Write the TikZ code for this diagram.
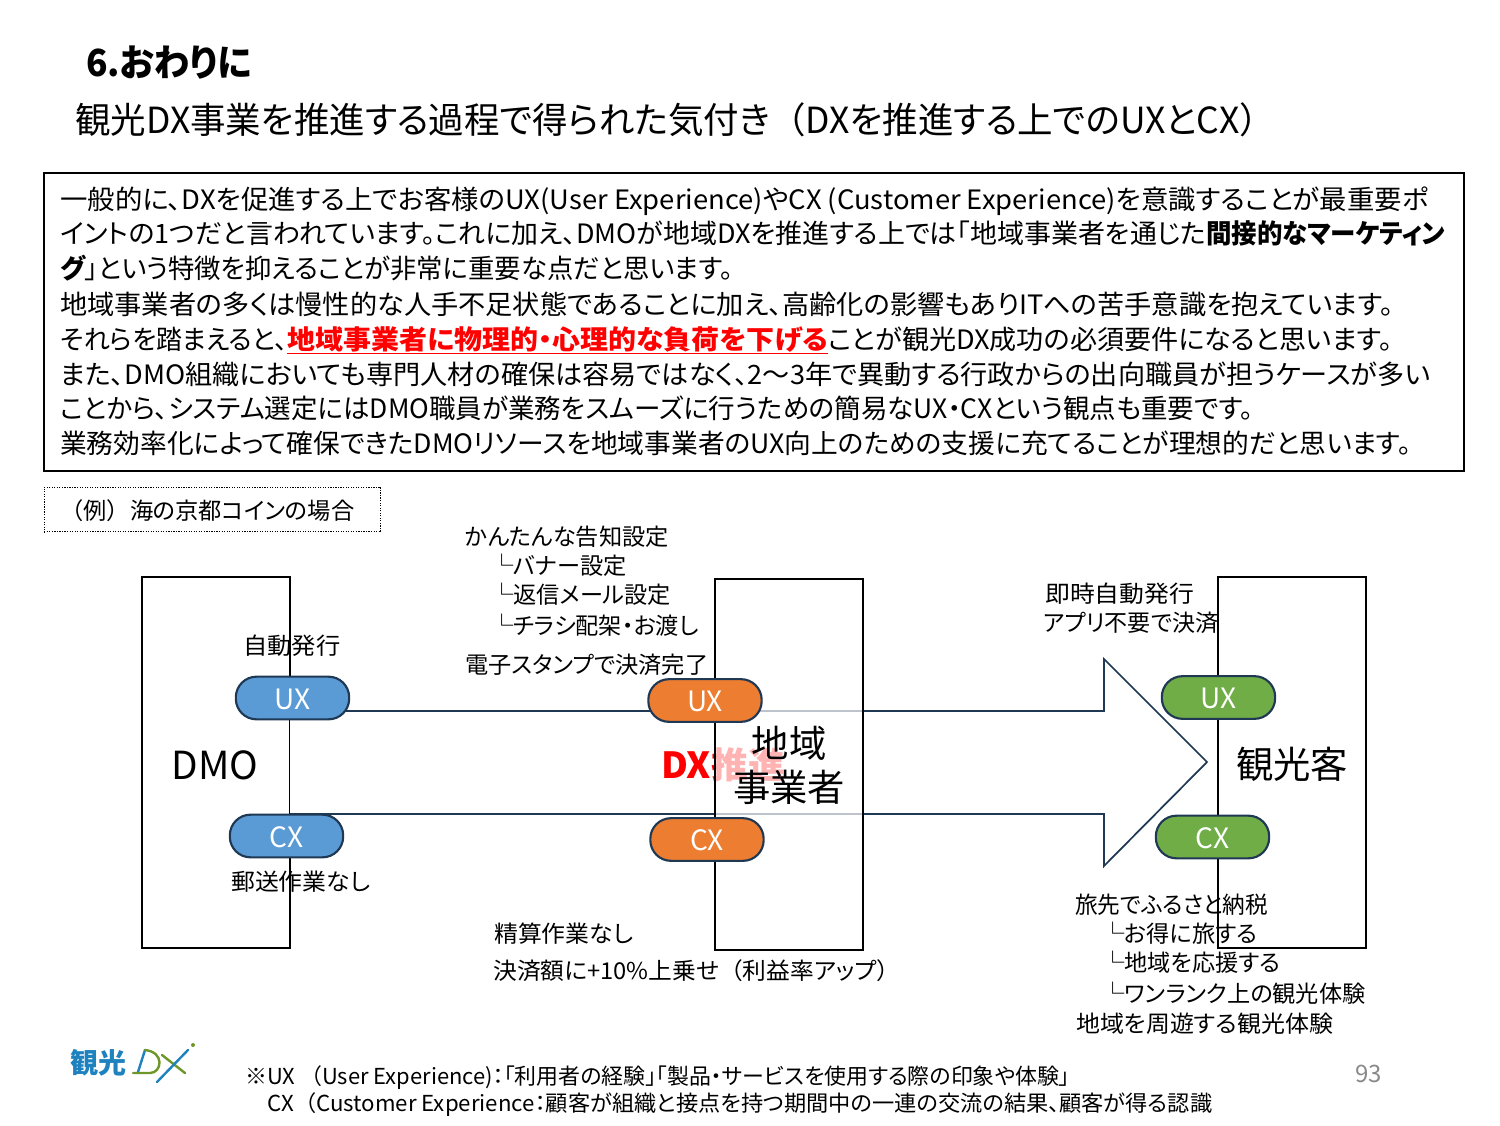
\documentclass[tikz,border=0pt]{standalone}
\usepackage{graphicx}
\usepackage{fontspec}
\setmainfont{Noto Sans CJK JP}[RawFeature=+palt]
\newfontfamily\fullfont{Noto Sans CJK JP}
\usetikzlibrary{positioning, backgrounds}
\newlength\pxunit
\setlength\pxunit{0.75pt}
\newcommand{\fitline}[2]{\resizebox{#1\pxunit}{\height}{#2}}
\newcommand{\fwl}{{\fullfont （}}
\newcommand{\fwr}{{\fullfont ）}}

\begin{document}
\begin{tikzpicture}[
    x=0.75pt, y=-0.75pt,
    % --- Colours ---
    navyLine/.style={draw={rgb,255:red,31;green,56;blue,84}},
    bluePill/.style={pill, fill={rgb,255:red,91;green,155;blue,213}},
    orangePill/.style={pill, fill={rgb,255:red,237;green,125;blue,49}},
    greenPill/.style={pill, fill={rgb,255:red,112;green,173;blue,71}},
    logoBlue/.style={line width=1.8pt, line cap=round, draw={rgb,255:red,30;green,130;blue,190}},
    logoGreen/.style={line width=1.8pt, line cap=round, draw={rgb,255:red,110;green,150;blue,40}},
    % --- Node styles ---
    pill/.style={navyLine, line width=1.6pt, rounded corners=15.5pt, minimum width=85pt, minimum height=32pt, inner sep=0pt, text=white, text height=17pt, text depth=0pt, font=\fontsize{21}{21}\selectfont},
    actor/.style={draw=black, line width=1.4pt, minimum width=111pt, minimum height=278pt, inner sep=0pt},
    actorText/.style={font=\fontsize{28}{33}\selectfont, align=center, inner sep=0pt},
    bodyLine/.style={anchor=base west, inner sep=0pt, font=\fontsize{20}{22}\selectfont},
    label/.style={anchor=base west, inner sep=0pt, font=\fontsize{17.4}{20}\selectfont},
    note/.style={anchor=base west, inner sep=0pt, font=\fontsize{16.5}{18}\selectfont}
]
    \useasboundingbox (0,0) rectangle (1500,1125);

    % ===== heading =====
    \node[anchor=base west, inner sep=0pt, font=\fontsize{28}{30}\selectfont\bfseries] (title) at (86,76) {\fitline{166}{6.おわりに}};
    \node[anchor=base west, inner sep=0pt, font=\fontsize{27}{30}\selectfont] (subtitle) at (75,133) {\fitline{1200}{観光DX事業を推進する過程で得られた気付き\fwl DXを推進する上でのUXとCX\fwr}};

    % ===== text block =====
    \node[draw=black, line width=1.1pt, minimum width=1065pt, minimum height=223.5pt, inner sep=0pt] (bodyBox) at (754,322) {};
    \node[bodyLine] (line1) at (60,209) {\fitline{1368}{一般的に、DXを促進する上でお客様のUX(User Experience)やCX (Customer Experience)を意識することが最重要ポ}};
    \node[bodyLine] (line2) at (60,243) {\fitline{1146}{イントの1つだと言われています。これに加え、DMOが地域DXを推進する上では「地域事業者を通じた}\fitline{239}{\textbf{間接的なマーケティン}}};
    \node[bodyLine] (line3) at (60,278) {\fitline{673}{\textbf{グ}」という特徴を抑えることが非常に重要な点だと思います。}};
    \node[bodyLine] (line4) at (60,314) {\fitline{1333}{地域事業者の多くは慢性的な人手不足状態であることに加え、高齢化の影響もありITへの苦手意識を抱えています。}};
    \node[bodyLine] (line5) at (60,349) {\fitline{227}{それらを踏まえると、}\fitline{541}{\textcolor{red}{\textbf{\underline{地域事業者に物理的・心理的な負荷を下げる}}}}\fitline{564}{ことが観光DX成功の必須要件になると思います。}};
    \node[bodyLine] (line6) at (60,384) {\fitline{1370}{また、DMO組織においても専門人材の確保は容易ではなく、2～3年で異動する行政からの出向職員が担うケースが多い}};
    \node[bodyLine] (line7) at (60,418) {\fitline{1193}{ことから、システム選定にはDMO職員が業務をスムーズに行うための簡易なUX・CXという観点も重要です。}};
    \node[bodyLine] (line8) at (60,453) {\fitline{1351}{業務効率化によって確保できたDMOリソースを地域事業者のUX向上のための支援に充てることが理想的だと思います。}};

    % ===== example tag =====
    \node[draw=black, densely dotted, line width=0.9pt, minimum width=252.5pt, minimum height=33.5pt, inner sep=0pt] (exampleTag) at (212.5,509.5) {};
    \node[label] (exampleText) at (60,519) {\fitline{294}{\fwl 例\fwr 海の京都コインの場合}};

    % ===== actors and arrow =====
    \node[actor] (dmoBox) at (216,762.5) {};
    \node[actor] (touristBox) at (1292,762.5) {};
    \draw[navyLine, fill=white, line width=1.3pt] (290,711) -- (1104,711) -- (1104,659) -- (1207,762) -- (1104,866) -- (1104,814) -- (290,814);
    \node[font=\fontsize{27}{30}\selectfont\bfseries, text=red, inner sep=0pt] (dxText) at (723,765) {\fitline{124}{DX推進}};
    \node[actor, fill=white, fill opacity=0.7, draw opacity=1] (localBox) at (789,764.5) {};

    \node[actorText, font=\fontsize{29}{33}\selectfont] (dmoText) at (215,765) {DMO};
    \node[actorText] (localText) at (789,765) {地域\\事業者};
    \node[actorText] (touristText) at (1292,764) {観光客};

    % ===== UX / CX pills =====
    \node[bluePill] (dmoUX) at (292.5,698) {UX};
    \node[bluePill] (dmoCX) at (286.5,836) {CX};
    \node[orangePill] (localUX) at (705,700.5) {UX};
    \node[orangePill] (localCX) at (707,839.5) {CX};
    \node[greenPill] (touristUX) at (1218.5,697.5) {UX};
    \node[greenPill] (touristCX) at (1212.5,837) {CX};

    % ===== labels =====
    \node[label] (dmoNote1) at (243,654) {\fitline{97}{自動発行}};
    \node[label] (dmoNote2) at (231,890) {\fitline{139}{郵送作業なし}};
    \node[label] (localNote1) at (465,545) {かんたんな告知設定};
    \node[label] (localNote2) at (490,574) {└バナー設定};
    \node[label] (localNote3) at (490,603) {└返信メール設定};
    \node[label] (localNote4) at (490,634) {└チラシ配架・お渡し};
    \node[label] (localNote5) at (465,673) {\fitline{243}{電子スタンプで決済完了}};
    \node[label] (localNote6) at (494,942) {\fitline{139}{精算作業なし}};
    \node[label] (localNote7) at (493,979) {\fitline{407}{決済額に+10\%上乗せ\fwl 利益率アップ\fwr}};
    \node[label] (touristNote1) at (1045,602) {\fitline{149}{即時自動発行}};
    \node[label] (touristNote2) at (1043,631) {\fitline{175}{アプリ不要で決済}};
    \node[label] (touristNote3) at (1075,913) {\fitline{193}{旅先でふるさと納税}};
    \node[label] (touristNote4) at (1101,942) {└お得に旅する};
    \node[label] (touristNote5) at (1101,971) {└地域を応援する};
    \node[label] (touristNote6) at (1101,1002) {└ワンランク上の観光体験};
    \node[label] (touristNote7) at (1076,1032) {\fitline{257}{地域を周遊する観光体験}};

    % ===== footer =====
    \node[note] (noteUX) at (245,1084) {\fitline{825}{※UX \fwl User Experience)：「利用者の経験」「製品・サービスを使用する際の印象や体験」}};
    \node[note] (noteCX) at (267,1111) {\fitline{945}{CX\fwl Customer Experience：顧客が組織と接点を持つ期間中の一連の交流の結果、顧客が得る認識}};
    \node[anchor=base west, inner sep=0pt, font=\fontsize{18}{20}\selectfont, text={rgb,255:red,137;green,137;blue,137}] (pageNo) at (1355,1082) {93};

    % ===== logo =====
    \node[anchor=west, inner sep=0pt, font=\fontsize{21}{25}\selectfont\bfseries, text={rgb,255:red,30;green,130;blue,190}] (logoText) at (70,1063) {観光};
    \draw[logoBlue] (145,1050) -- (138,1072);
    \draw[logoGreen] (133,1073) -- (150,1073) .. controls (162,1073) and (165,1052) .. (145,1050);
    \draw[logoGreen] (162,1055) -- (185,1073);
    \draw[logoBlue] (157,1082) -- (188,1050);
    \fill[fill={rgb,255:red,110;green,150;blue,40}] (193,1045) circle (1.5pt);
\end{tikzpicture}
\end{document}
